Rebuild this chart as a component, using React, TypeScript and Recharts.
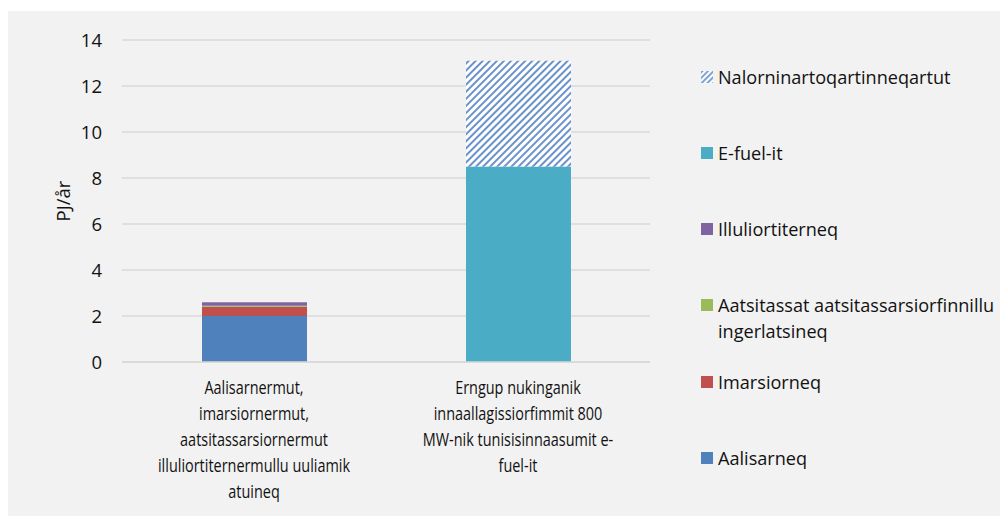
import { BarChart, Bar, XAxis, YAxis, CartesianGrid, Legend } from "recharts";

const categories = [
    "Aalisarnermut,\nimarsiornermut,\naatsitassarsiornermut\nilluliortiternermullu uuliamik\natuineq",
    "Erngup nukinganik\ninnaallagissiorfimmit 800\nMW-nik tunisisinnaasumit e-\nfuel-it",
];

const aalisarneq = [2.0, 0];
const imarsiorneq = [0.4, 0];
const aatsitassat = [0.05, 0];
const illuliortiterneq = [0.15, 0];
const efuel = [0, 8.5];
const nalorninartoq = [0, 4.6];

const yTicks = [0, 2, 4, 6, 8, 10, 12, 14];

const series = [
    { key: "aalisarneq", name: "Aalisarneq", color: "#4F81BD", values: aalisarneq },
    { key: "imarsiorneq", name: "Imarsiorneq", color: "#C0504D", values: imarsiorneq },
    { key: "aatsitassat", name: "Aatsitassat aatsitassarsiorfinnillu\ningerlatsineq", color: "#9BBB59", values: aatsitassat },
    { key: "illuliortiterneq", name: "Illuliortiterneq", color: "#8064A2", values: illuliortiterneq },
    { key: "efuel", name: "E-fuel-it", color: "#4BACC6", values: efuel },
    { key: "nalorninartoq", name: "Nalorninartoqartinneqartut", color: "url(#hatch)", values: nalorninartoq },
];

const data = categories.map((c, i) => {
    const row: Record<string, string | number> = { category: c };
    series.forEach((s) => (row[s.key] = s.values[i]));
    return row;
});

const FONT = "'Open Sans', 'Noto Sans', sans-serif";
const FS = 18.5;
const LEGEND_FS = 18.1;
const TEXT = "#111111";

// the axis labels in the original are rendered narrow, so squeeze them horizontally
function CategoryTick({ x, y, payload }: any) {
    const lines = String(payload.value).split("\n");
    return (
        <g transform={`translate(${x},${y}) scale(0.76,1)`}>
            <text x={0} y={0} textAnchor="middle" fill={TEXT} fontSize={19} fontFamily={FONT}>
                {lines.map((l, i) => (
                    <tspan key={i} x={0} dy={i === 0 ? 24 : 26}>
                        {l}
                    </tspan>
                ))}
            </text>
        </g>
    );
}

function LegendList() {
    const items = [...series].reverse();
    return (
        <div style={{ fontFamily: FONT, fontSize: LEGEND_FS, color: TEXT }}>
            {items.map((s) => (
                <div key={s.key} style={{ display: "flex", alignItems: "flex-start", height: s.key === "aatsitassat" ? 77 : 76 }}>
                    <svg width={12} height={12} style={{ marginTop: 7, marginRight: 5, flexShrink: 0 }}>
                        <defs>
                            <pattern id="hatchIcon" patternUnits="userSpaceOnUse" width={4} height={4} patternTransform="rotate(45)">
                                <rect width={4} height={4} fill="#ffffff" />
                                <rect width={2} height={4} fill="#7FA3D6" />
                            </pattern>
                        </defs>
                        <rect width={12} height={12} fill={s.key === "nalorninartoq" ? "url(#hatchIcon)" : s.color} />
                    </svg>
                    <div style={{ whiteSpace: "pre", lineHeight: "26px" }}>{s.name}</div>
                </div>
            ))}
        </div>
    );
}

export default function App() {
    return (
        <div style={{ paddingTop: 3 }}>
            <div style={{ width: 1000, height: 505, background: "#f2f2f2", overflow: "hidden" }}>
                <BarChart
                    width={1000}
                    height={505}
                    data={data}
                    margin={{ top: 29, right: 58, left: 0, bottom: 14 }}
                    barSize={105}
                >
                    <defs>
                        <pattern id="hatch" patternUnits="userSpaceOnUse" width={5} height={5} patternTransform="rotate(45)">
                            <rect width={5} height={5} fill="#ffffff" />
                            <rect width={2} height={5} fill="#6A92CC" />
                        </pattern>
                    </defs>
                    <CartesianGrid vertical={false} stroke="#d9d9d9" strokeWidth={1.5} />
                    <XAxis
                        dataKey="category"
                        axisLine={{ stroke: "#d9d9d9", strokeWidth: 1.5 }}
                        tickLine={false}
                        height={140}
                        interval={0}
                        tick={<CategoryTick />}
                    />
                    <YAxis
                        width={114}
                        domain={[0, 14]}
                        ticks={yTicks}
                        axisLine={false}
                        tickLine={false}
                        tickSize={0}
                        tickMargin={20}
                        tick={{ fill: TEXT, fontSize: FS, fontFamily: FONT }}
                        label={{
                            value: "PJ/år",
                            angle: -90,
                            position: "center",
                            dx: -2,
                            style: { fill: TEXT, fontSize: FS, fontFamily: FONT },
                        }}
                    />
                    <Legend
                        layout="vertical"
                        align="right"
                        verticalAlign="top"
                        wrapperStyle={{ left: 693, top: 53, width: 300 }}
                        content={() => <LegendList />}
                    />
                    {series.map((s) => (
                        <Bar key={s.key} dataKey={s.key} name={s.name} stackId="a" fill={s.color} isAnimationActive={false} />
                    ))}
                </BarChart>
            </div>
        </div>
    );
}
